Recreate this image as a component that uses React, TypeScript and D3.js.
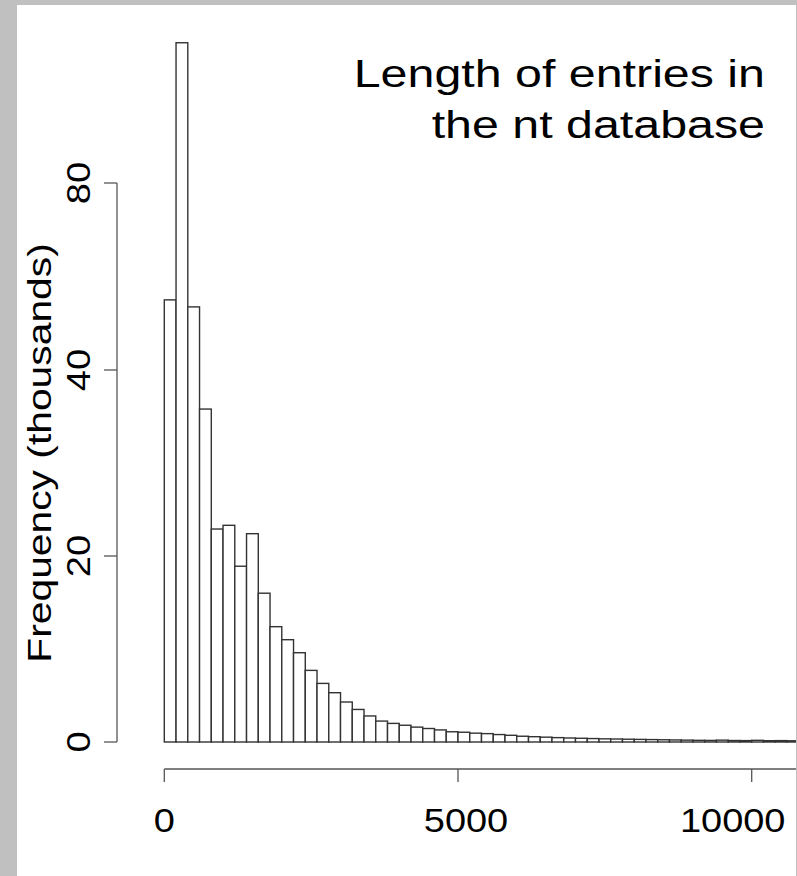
import React from "react";
import * as d3 from "d3";

// Histogram bins (sequence length, bin width 200) and frequencies (thousands)
const binWidth = 200;
const frequencies: number[] = [
  55, 110, 53.5, 35.8, 22.9, 23.3, 18.9, 22.4, 16.0, 12.4,
  11.0, 9.6, 7.7, 6.3, 5.3, 4.3, 3.5, 2.8, 2.25, 2.0,
  1.8, 1.6, 1.45, 1.3, 1.1, 1.05, 0.95, 0.9, 0.8, 0.72,
  0.62, 0.57, 0.52, 0.47, 0.43, 0.4, 0.37, 0.34, 0.32, 0.3,
  0.28, 0.26, 0.24, 0.22, 0.2, 0.18, 0.17, 0.2, 0.16, 0.15,
  0.18, 0.14, 0.15, 0.13,
];
const xTicks: number[] = [0, 5000, 10000];
const xTickLabels: string[] = ["0", "5000", "10000"];
const xLabelShift: number[] = [0, 8, -19];
const yTicks: number[] = [0, 20, 40, 80];
const yTickLabels: string[] = ["0", "20", "40", "80"];
const titleLines: string[] = ["Length of entries in", "the nt database"];
const yTitle = "Frequency (thousands)";

const W = 797;
const H = 876;
const FONT = "'Liberation Sans', Arial, Helvetica, sans-serif";

export default function App() {
  const x = d3.scaleLinear().domain([0, 10000]).range([164.3, 751.7]);
  const y = d3.scaleLinear().domain(yTicks).range([742, 556, 370, 183]);
  const panelRight = 796;
  const axisY = 769;

  const bins = frequencies.map((f, i) => ({ x0: i * binWidth, x1: (i + 1) * binWidth, f }));

  return (
    <svg
      width={W}
      height={H}
      style={{ position: "absolute", left: 0, top: 0, display: "block" }}
      fontFamily={FONT}
    >
      <defs>
        <clipPath id="panel">
          <rect x={17} y={5} width={panelRight - 17} height={H - 5} />
        </clipPath>
      </defs>
      <rect x={0} y={0} width={W} height={H} fill="#c0c0c0" />
      <rect x={17} y={5} width={panelRight - 17} height={H - 5} fill="#ffffff" />

      <g clipPath="url(#panel)">
        {bins.map((b, i) => (
          <rect
            key={i}
            x={x(b.x0)}
            y={y(b.f)}
            width={x(b.x1) - x(b.x0)}
            height={y(0) - y(b.f)}
            fill="#ffffff"
            stroke="#333333"
            strokeWidth={1.4}
          />
        ))}

        {/* x axis */}
        <line x1={x(0)} x2={panelRight + 2} y1={axisY} y2={axisY} stroke="#555" strokeWidth={1.3} />
        {xTicks.map((t, i) => (
          <g key={t}>
            <line x1={x(t)} x2={x(t)} y1={axisY} y2={axisY + 13} stroke="#555" strokeWidth={1.3} />
            <text
              transform={`translate(${x(t) + xLabelShift[i]},832) scale(1.15,1)`}
              textAnchor="middle"
              fontSize={33}
              fill="#000"
            >
              {xTickLabels[i]}
            </text>
          </g>
        ))}
      </g>

      {/* y axis */}
      <line x1={117} x2={117} y1={y(80)} y2={y(0)} stroke="#555" strokeWidth={1.3} />
      {yTicks.map((t, i) => (
        <g key={t}>
          <line x1={104} x2={117} y1={y(t)} y2={y(t)} stroke="#555" strokeWidth={1.3} />
          <text
            transform={`translate(90,${y(t)}) rotate(-90) scale(1.12,1)`}
            textAnchor="middle"
            fontSize={34}
            fill="#000"
          >
            {yTickLabels[i]}
          </text>
        </g>
      ))}
      <text
        transform={`translate(51,453) rotate(-90) scale(1.2,1)`}
        textAnchor="middle"
        fontSize={34}
        fill="#000"
      >
        {yTitle}
      </text>

      {/* title */}
      {titleLines.map((line, i) => (
        <text
          key={i}
          transform={`translate(765,${87 + i * 50.7}) scale(1.24,1)`}
          textAnchor="end"
          fontSize={39}
          fill="#000"
        >
          {line}
        </text>
      ))}
    </svg>
  );
}
